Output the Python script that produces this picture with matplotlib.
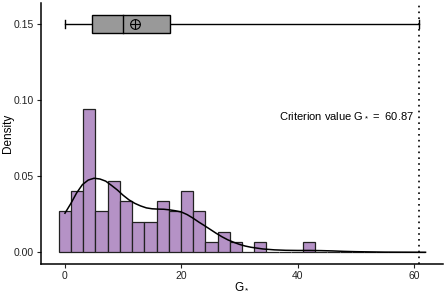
import numpy as np
import matplotlib.pyplot as plt

plt.rcParams['font.family'] = ['Liberation Sans', 'DejaVu Sans']

# histogram counts per bin (30 bins, centred at k * width)
criterion = 60.87
counts = [4, 6, 14, 4, 7, 5, 3, 3, 5, 4, 6, 4, 1, 2, 1, 0, 1, 0, 0, 0,
          1, 0, 0, 0, 0, 0, 0, 0, 0, 0]
n_obs = 71

# density curve
kde_x = [0, 1, 2, 3, 4, 5, 6, 7, 8, 9, 10, 11, 12, 13, 14, 15, 16, 17, 18,
         19, 20, 21, 22, 23, 24, 25, 26, 27, 28, 29, 30, 31, 32, 34, 36, 38,
         40, 42, 44, 46, 48, 50, 55, 62]
kde_y = [0.0257, 0.032, 0.039, 0.0445, 0.0475, 0.0487, 0.0482, 0.0468,
         0.0440, 0.041, 0.0375, 0.0345, 0.0322, 0.0305, 0.0292, 0.0286,
         0.0284, 0.0283, 0.0279, 0.0273, 0.0265, 0.0248, 0.0225, 0.0199,
         0.0175, 0.015, 0.0125, 0.0102, 0.0082, 0.0066, 0.0052, 0.0041,
         0.0033, 0.0022, 0.0016, 0.0013, 0.0012, 0.0012, 0.0011, 0.0009,
         0.0006, 0.0004, 0.0001, 0.0]

# boxplot summary
box_min, box_q1, box_med, box_q3, box_max = 0.0, 4.6, 10.0, 18.0, criterion
box_mean = 12.0
box_y = 0.15

width = criterion / (len(counts) - 1)
centers = np.arange(len(counts)) * width
density = np.array(counts) / (n_obs * width)

fig = plt.figure(figsize=(4.47, 2.93), dpi=100)
ax = fig.add_axes([0.092, 0.099, 0.899, 0.891])

ax.bar(centers, density, width=width, color='#b592c6', edgecolor='#222222',
       linewidth=0.9)
ax.plot(kde_x, kde_y, color='black', lw=1.1)

# boxplot
h = 0.006
ax.plot([box_min, box_q1], [box_y, box_y], color='black', lw=1)
ax.plot([box_q3, box_max], [box_y, box_y], color='black', lw=1)
ax.plot([box_min, box_min], [box_y - 0.0025, box_y + 0.0025], color='black', lw=1)
ax.plot([box_max, box_max], [box_y - 0.0025, box_y + 0.0025], color='black', lw=1)
ax.add_patch(plt.Rectangle((box_q1, box_y - h), box_q3 - box_q1, 2 * h,
                           facecolor='#999999', edgecolor='black', lw=1, zorder=3))
ax.plot([box_med, box_med], [box_y - h, box_y + h], color='black', lw=1, zorder=4)
ax.plot(box_mean, box_y, marker='o', ms=7, mfc='none', mec='black', mew=0.8, zorder=5)
ax.plot(box_mean, box_y, marker='+', ms=7, mec='black', mew=0.8, zorder=5)

ax.axvline(criterion, color='black', ls=(0, (1, 2.5)), lw=1.2)
ax.text(criterion - 0.9, 0.090, r'Criterion value $\mathregular{G_*}$ =  60.87',
        ha='right', va='center', fontsize=8)

ax.set_xlim(-4.1, 65)
ax.set_ylim(-0.0077, 0.164)
ax.set_xticks([0, 20, 40, 60])
ax.set_yticks([0, 0.05, 0.10, 0.15])
ax.set_yticklabels(['0.00', '0.05', '0.10', '0.15'])
ax.tick_params(labelsize=7.5, length=3, width=0.8, colors='#222222', pad=2)
ax.set_xlabel(r'$\mathregular{G_*}$', fontsize=8.5)
ax.set_ylabel('Density', fontsize=8.5)
ax.xaxis.set_label_coords(0.5, -0.062)
ax.yaxis.set_label_coords(-0.067, 0.5)
for s in ['top', 'right']:
    ax.spines[s].set_visible(False)
for s in ['left', 'bottom']:
    ax.spines[s].set_linewidth(1.1)

fig.savefig('out.png', dpi=100)
